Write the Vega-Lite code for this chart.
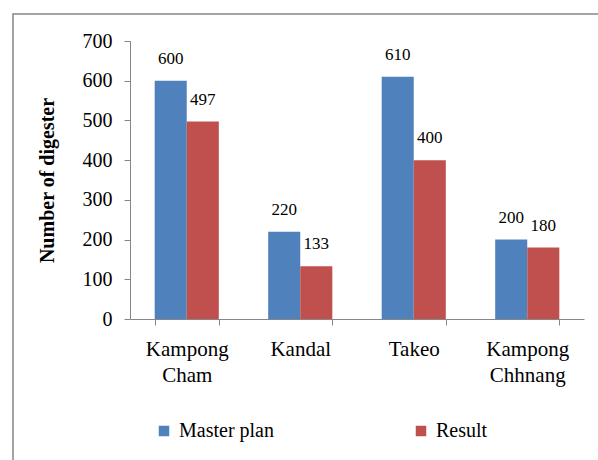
{
  "$schema": "https://vega.github.io/schema/vega-lite/v6.json",
  "width": 585,
  "height": 446,
  "autosize": "none",
  "padding": {"left": 13, "top": 14, "right": 0, "bottom": 0},
  "background": "white",
  "config": {
    "font": "Times New Roman, Liberation Serif, DejaVu Serif, serif",
    "text": {"font": "Times New Roman, Liberation Serif, DejaVu Serif, serif"},
    "legend": {"labelFont": "Times New Roman, Liberation Serif, DejaVu Serif, serif"},
    "view": {"stroke": "#868686", "strokeWidth": 1.5, "strokeDash": [585, 1031, 446]},
    "axis": {"domainColor": "#868686", "tickColor": "#868686", "labelColor": "black", "titleColor": "black", "labelFont": "Times New Roman, Liberation Serif, DejaVu Serif, serif", "titleFont": "Times New Roman, Liberation Serif, DejaVu Serif, serif"}
  },
  "data": {
    "values": [
      {"district": "Kampong Cham", "series": "Master plan", "value": 600},
      {"district": "Kampong Cham", "series": "Result", "value": 497},
      {"district": "Kandal", "series": "Master plan", "value": 220},
      {"district": "Kandal", "series": "Result", "value": 133},
      {"district": "Takeo", "series": "Master plan", "value": 610},
      {"district": "Takeo", "series": "Result", "value": 400},
      {"district": "Kampong Chhnang", "series": "Master plan", "value": 200},
      {"district": "Kampong Chhnang", "series": "Result", "value": 180}
    ]
  },
  "encoding": {
    "x": {
      "field": "district",
      "type": "nominal",
      "sort": null,
      "scale": {"range": [117, 571], "paddingInner": 0.435, "paddingOuter": 0.2175},
      "axis": {
        "title": null,
        "offset": -141,
        "labelAngle": 0,
        "labelFontSize": 21,
        "labelLineHeight": 26,
        "labelPadding": 13,
        "labelExpr": "split(datum.label, ' ')",
        "tickBand": "extent",
        "tickSize": 6,
        "domainWidth": 1,
        "tickWidth": 1
      }
    },
    "xOffset": {"field": "series", "type": "nominal", "sort": ["Master plan", "Result"]},
    "y": {
      "field": "value",
      "type": "quantitative",
      "scale": {"domain": [0, 700], "range": [305, 27], "nice": false},
      "axis": {
        "title": "Number of digester",
        "titleFontSize": 20,
        "titleFontWeight": "bold",
        "titlePadding": 25,
        "offset": -117,
        "values": [0, 100, 200, 300, 400, 500, 600, 700],
        "grid": false,
        "labelFontSize": 20,
        "labelPadding": 12,
        "tickSize": 6,
        "domainWidth": 1,
        "tickWidth": 1
      }
    }
  },
  "layer": [
    {
      "mark": {"type": "bar"},
      "encoding": {
        "color": {
          "field": "series",
          "type": "nominal",
          "sort": ["Master plan", "Result"],
          "scale": {"domain": ["Master plan", "Result"], "range": ["#4F81BD", "#C0504D"]},
          "legend": {
            "title": null,
            "orient": "none",
            "direction": "horizontal",
            "legendX": 141,
            "legendY": 407,
            "symbolType": "square",
            "symbolSize": 110,
            "symbolStrokeWidth": 0,
            "labelFontSize": 20,
            "labelColor": "black",
            "labelOffset": 5,
            "columnPadding": 137,
            "padding": 0
          }
        }
      }
    },
    {
      "mark": {"type": "text", "baseline": "bottom", "dy": -13, "fontSize": 17, "color": "black"},
      "encoding": {"text": {"field": "value", "type": "quantitative"}}
    }
  ]
}
